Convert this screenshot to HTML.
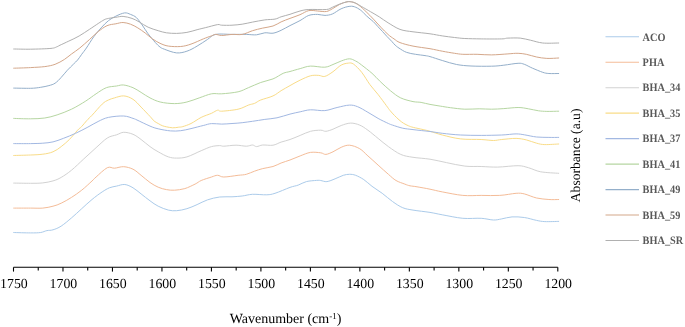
<!DOCTYPE html>
<html><head><meta charset="utf-8"><style>
html,body{margin:0;padding:0;background:#fff;}
body{width:685px;height:327px;overflow:hidden;}
svg{display:block;will-change:transform;}
text{font-family:"Liberation Serif",serif;text-rendering:geometricPrecision;}
</style></head><body>
<svg width="685" height="327" viewBox="0 0 685 327">
<rect width="685" height="327" fill="#fff"/>
<g fill="none" stroke-width="1.0" stroke-linejoin="round" stroke-linecap="round">
<path d="M13.7,232.5 C16.5,232.6 26.0,232.9 30.5,232.9 C35.0,232.9 38.0,232.9 40.7,232.5 C43.4,232.1 44.9,231.0 46.9,230.6 C48.9,230.2 50.6,230.6 53.0,229.8 C55.4,229.1 58.1,228.1 61.2,226.1 C64.3,224.1 68.1,220.8 71.5,217.9 C74.9,215.0 78.3,211.8 81.7,208.7 C85.1,205.6 88.6,202.3 92.0,199.5 C95.4,196.7 99.3,193.8 102.2,191.9 C105.1,190.0 107.0,188.8 109.4,187.8 C111.8,186.8 114.0,186.7 116.6,186.1 C119.2,185.5 122.1,184.2 124.8,184.5 C127.5,184.8 130.3,186.2 133.0,187.8 C135.7,189.4 138.3,191.7 141.1,193.9 C143.9,196.1 147.2,198.8 150.0,200.8 C152.8,202.9 155.1,204.6 158.2,206.2 C161.3,207.8 165.3,209.3 168.4,210.1 C171.5,210.8 173.5,210.9 176.6,210.7 C179.7,210.5 183.5,209.7 186.9,208.7 C190.3,207.7 193.7,206.1 197.1,204.6 C200.5,203.1 203.6,201.2 207.4,199.9 C211.2,198.6 215.6,197.5 219.7,197.0 C223.8,196.5 228.2,197.0 232.0,196.8 C235.8,196.6 238.8,196.4 242.2,196.0 C245.6,195.6 248.4,194.5 252.5,194.3 C256.6,194.1 263.1,195.0 266.8,194.8 C270.6,194.6 271.1,194.5 275.0,193.3 C278.9,192.1 286.1,188.8 290.0,187.4 C293.9,186.0 295.5,186.1 298.2,185.1 C300.9,184.1 303.3,182.4 306.4,181.6 C309.5,180.8 314.2,180.6 316.6,180.4 C319.0,180.2 319.0,180.3 320.7,180.5 C322.4,180.7 324.5,181.9 326.9,181.6 C329.3,181.3 332.4,179.9 335.1,178.8 C337.8,177.8 340.9,176.1 343.3,175.3 C345.7,174.6 347.3,174.3 349.4,174.3 C351.4,174.3 353.2,174.4 355.6,175.3 C358.0,176.2 361.1,177.8 363.8,179.6 C366.5,181.4 368.9,184.0 372.0,186.3 C375.1,188.6 378.8,190.8 382.2,193.3 C385.6,195.8 389.1,199.1 392.5,201.5 C395.9,203.9 399.3,206.3 402.7,207.7 C406.1,209.1 408.4,209.3 413.0,210.1 C417.6,210.9 425.1,211.6 430.0,212.4 C434.9,213.2 436.8,213.8 442.3,214.8 C447.8,215.8 456.3,217.7 462.8,218.3 C469.3,218.9 476.1,218.0 481.2,218.3 C486.3,218.6 490.1,219.9 493.5,220.0 C496.9,220.1 498.6,219.4 501.7,218.9 C504.8,218.4 508.2,217.1 512.0,216.9 C515.8,216.7 520.2,216.9 524.3,217.5 C528.4,218.1 533.2,219.7 536.6,220.4 C540.0,221.1 541.1,221.4 544.8,221.6 C548.5,221.8 556.4,221.4 558.7,221.4" stroke="#ABCBEA"/>
<path d="M13.7,208.1 C16.5,208.1 25.6,208.1 30.5,208.1 C35.4,208.1 39.0,208.4 42.8,208.1 C46.5,207.8 49.9,207.0 53.0,206.2 C56.1,205.4 58.1,204.7 61.2,203.2 C64.3,201.7 68.1,199.6 71.5,197.4 C74.9,195.2 78.3,192.9 81.7,190.2 C85.1,187.5 89.6,183.2 92.0,181.0 C94.4,178.8 93.5,179.2 96.1,177.0 C98.6,174.8 104.2,169.2 107.3,167.7 C110.4,166.2 111.8,168.4 114.5,168.2 C117.2,168.0 120.6,166.5 123.7,166.7 C126.8,166.9 130.1,167.8 133.0,169.2 C135.9,170.6 138.3,173.1 141.1,175.3 C143.9,177.5 147.2,180.5 150.0,182.5 C152.8,184.5 155.5,186.0 158.2,187.2 C160.9,188.4 163.7,189.1 166.4,189.6 C169.1,190.1 171.5,190.4 174.6,190.2 C177.7,190.0 181.4,189.6 184.8,188.6 C188.2,187.6 192.4,185.4 195.1,184.1 C197.8,182.8 198.5,181.7 201.2,180.5 C203.9,179.3 208.8,177.9 211.5,177.0 C214.2,176.1 215.5,175.3 217.6,175.3 C219.7,175.3 220.4,177.0 223.8,177.0 C227.2,177.0 234.3,175.8 238.1,175.3 C241.8,174.9 243.6,175.0 246.3,174.3 C249.0,173.6 251.8,172.1 254.5,171.2 C257.2,170.2 259.6,169.4 262.7,168.6 C265.8,167.8 269.9,167.4 273.0,166.5 C276.1,165.6 278.3,164.1 281.1,163.0 C283.9,161.9 286.8,161.2 290.0,160.0 C293.2,158.8 296.8,157.2 300.2,155.9 C303.6,154.6 307.1,152.9 310.5,152.4 C313.9,151.9 318.1,152.5 320.7,152.8 C323.3,153.1 323.8,154.6 325.9,154.4 C327.9,154.2 330.4,153.0 333.0,151.8 C335.6,150.6 338.5,148.4 341.2,147.3 C343.9,146.2 346.3,145.0 349.4,145.2 C352.5,145.4 356.6,146.9 359.7,148.7 C362.8,150.5 364.8,153.2 367.9,155.9 C371.0,158.6 374.7,162.0 378.1,165.1 C381.5,168.2 385.4,171.7 388.4,174.3 C391.4,176.9 393.3,178.9 396.0,180.5 C398.7,182.1 402.5,183.2 404.8,184.1 C407.1,185.0 408.0,185.4 410.0,185.8 C412.0,186.2 413.7,186.2 417.0,186.8 C420.3,187.4 425.8,188.3 430.0,189.2 C434.2,190.0 436.8,190.9 442.3,191.9 C447.8,192.9 456.3,194.8 462.8,195.4 C469.3,196.0 475.1,195.4 481.2,195.4 C487.3,195.4 493.9,195.8 499.7,195.4 C505.5,195.1 512.0,193.6 516.1,193.3 C520.2,193.1 520.9,193.1 524.3,193.9 C527.7,194.7 532.5,197.1 536.6,198.0 C540.7,198.9 545.2,199.2 548.9,199.5 C552.6,199.8 557.1,199.5 558.7,199.5" stroke="#F4BC98"/>
<path d="M13.7,183.1 C16.5,183.1 25.6,183.3 30.5,183.3 C35.4,183.3 39.0,183.3 42.8,182.9 C46.5,182.5 49.9,181.8 53.0,180.9 C56.1,180.0 58.1,179.2 61.2,177.4 C64.3,175.6 67.7,173.3 71.5,170.2 C75.3,167.1 79.7,162.7 83.8,158.9 C87.9,155.2 92.2,151.2 96.1,147.7 C100.0,144.2 103.9,140.2 107.3,138.0 C110.7,135.8 113.9,135.8 116.6,134.8 C119.3,133.9 121.0,132.4 123.7,132.3 C126.4,132.2 130.1,133.1 133.0,134.3 C135.9,135.5 138.3,137.4 141.1,139.5 C143.9,141.6 147.2,144.5 150.0,146.6 C152.8,148.7 155.1,150.1 158.2,151.8 C161.3,153.5 165.3,155.9 168.4,156.9 C171.5,157.9 173.5,158.1 176.6,158.1 C179.7,158.1 182.8,158.1 186.9,156.9 C191.0,155.7 197.1,152.4 201.2,150.7 C205.3,149.0 208.4,147.4 211.5,146.6 C214.6,145.8 217.6,145.7 219.7,145.6 C221.8,145.5 221.1,146.3 223.8,146.2 C226.5,146.1 232.3,145.2 236.1,145.2 C239.8,145.2 243.6,146.2 246.3,146.2 C249.0,146.2 250.8,144.9 252.5,145.0 C254.2,145.1 254.9,146.6 256.6,146.6 C258.3,146.6 260.0,145.2 262.7,145.0 C265.4,144.8 269.9,145.7 273.0,145.2 C276.1,144.7 278.3,143.0 281.1,142.1 C283.9,141.2 286.8,140.6 290.0,139.5 C293.2,138.4 296.8,136.8 300.2,135.4 C303.6,134.0 307.1,132.2 310.5,131.3 C313.9,130.4 318.1,130.2 320.7,130.2 C323.3,130.2 323.8,131.5 325.9,131.3 C327.9,131.1 330.4,130.2 333.0,129.2 C335.6,128.2 338.3,126.5 341.2,125.5 C344.1,124.5 347.4,123.2 350.5,123.1 C353.6,123.0 356.8,123.9 359.7,125.1 C362.6,126.3 364.8,128.0 367.9,130.2 C371.0,132.4 374.7,135.7 378.1,138.4 C381.5,141.1 384.6,143.9 388.4,146.6 C392.2,149.3 396.6,152.6 400.7,154.4 C404.8,156.2 408.1,156.5 413.0,157.3 C417.9,158.1 424.4,158.3 430.0,159.2 C435.6,160.1 440.6,161.4 446.4,162.6 C452.2,163.8 459.0,165.4 464.8,166.1 C470.6,166.8 475.7,166.3 481.2,166.5 C486.7,166.7 491.5,167.2 497.6,167.1 C503.8,167.0 513.0,165.6 518.1,165.7 C523.2,165.8 524.6,166.7 528.4,167.7 C532.2,168.7 535.7,170.9 540.7,171.8 C545.8,172.7 555.7,173.1 558.7,173.3" stroke="#D2D2D2"/>
<path d="M13.7,155.5 C16.5,155.4 25.6,155.2 30.5,155.0 C35.4,154.8 39.0,154.7 42.8,154.2 C46.5,153.7 49.9,153.1 53.0,151.8 C56.1,150.5 58.5,148.7 61.2,146.6 C63.9,144.5 66.7,142.2 69.4,139.5 C72.1,136.8 75.5,132.4 77.6,130.2 C79.6,128.0 80.2,128.1 81.7,126.5 C83.2,124.9 85.1,122.4 86.8,120.5 C88.5,118.6 89.4,118.0 92.0,115.3 C94.6,112.6 99.5,106.6 102.2,104.1 C104.9,101.5 106.4,101.0 108.4,100.0 C110.5,99.0 112.0,98.6 114.5,97.9 C117.0,97.2 120.6,95.7 123.7,95.9 C126.8,96.1 130.1,97.4 133.0,99.3 C135.9,101.2 138.3,104.2 141.1,107.1 C143.9,109.9 147.8,114.1 150.0,116.4 C152.2,118.7 152.7,119.8 154.1,121.0 C155.5,122.2 156.8,122.7 158.2,123.5 C159.6,124.3 160.9,125.2 162.3,125.7 C163.7,126.2 164.7,126.5 166.4,126.8 C168.1,127.1 170.4,127.7 172.5,127.8 C174.6,127.9 177.0,127.4 178.7,127.2 C180.4,127.0 180.8,127.2 182.8,126.6 C184.9,126.0 187.9,125.0 191.0,123.5 C194.1,122.0 197.8,119.1 201.2,117.4 C204.6,115.7 208.8,114.5 211.5,113.3 C214.2,112.1 215.9,110.5 217.6,110.2 C219.3,109.9 218.3,111.4 221.7,111.2 C225.1,111.0 233.6,110.2 238.1,109.2 C242.6,108.2 245.7,106.1 248.4,105.1 C251.1,104.1 252.4,104.2 254.5,103.4 C256.6,102.6 257.6,101.2 260.7,100.0 C263.8,98.8 269.6,97.5 273.0,95.9 C276.4,94.4 278.3,92.4 281.1,90.7 C283.9,89.0 286.8,87.4 290.0,85.6 C293.2,83.8 296.8,81.7 300.2,80.1 C303.6,78.5 307.4,76.6 310.5,75.8 C313.6,75.0 316.3,75.3 318.7,75.4 C321.1,75.5 322.4,77.0 324.8,76.4 C327.2,75.8 330.3,73.6 333.0,71.7 C335.7,69.8 338.6,66.5 341.2,65.1 C343.8,63.7 346.3,63.3 348.4,63.1 C350.4,62.9 351.3,62.6 353.5,64.1 C355.7,65.6 359.0,68.9 361.7,72.3 C364.4,75.7 367.2,80.9 369.9,84.6 C372.6,88.3 375.4,91.0 378.1,94.5 C380.8,98.0 384.3,102.8 386.3,105.5 C388.3,108.2 388.6,108.8 390.0,110.5 C391.4,112.2 393.0,114.0 394.5,115.5 C396.0,117.0 397.5,118.5 399.0,119.8 C400.5,121.1 402.0,122.3 403.6,123.3 C405.2,124.3 406.9,125.1 408.5,125.8 C410.1,126.5 410.9,126.8 413.3,127.4 C415.7,128.0 420.3,128.9 423.1,129.6 C425.9,130.2 426.8,130.4 430.0,131.3 C433.2,132.2 437.2,133.7 442.3,135.0 C447.4,136.3 454.2,138.2 460.7,138.9 C467.2,139.7 475.7,139.2 481.2,139.5 C486.7,139.8 490.1,140.5 493.5,140.5 C496.9,140.5 497.9,139.8 501.7,139.5 C505.5,139.2 512.0,138.3 516.1,138.4 C520.2,138.5 522.9,139.1 526.3,139.9 C529.7,140.7 533.5,142.4 536.6,143.2 C539.7,144.0 541.1,144.5 544.8,144.6 C548.5,144.7 556.4,144.1 558.7,144.0" stroke="#F9DC88"/>
<path d="M13.7,143.6 C16.5,143.6 25.6,143.7 30.5,143.6 C35.4,143.5 39.0,143.5 42.8,143.2 C46.5,142.9 49.6,142.7 53.0,141.9 C56.4,141.1 59.5,139.8 63.3,138.4 C67.1,137.0 71.5,135.2 75.6,133.3 C79.7,131.4 84.2,129.1 87.9,127.1 C91.7,125.1 94.7,123.1 98.1,121.5 C101.5,119.9 104.1,118.3 108.4,117.4 C112.7,116.5 119.6,115.8 123.7,116.0 C127.8,116.2 130.8,117.7 133.0,118.4 C135.2,119.1 134.2,118.7 137.0,120.0 C139.8,121.3 146.5,124.6 150.0,126.1 C153.5,127.6 154.8,128.0 158.2,128.8 C161.6,129.6 166.8,130.6 170.5,130.9 C174.2,131.2 177.3,131.1 180.7,130.7 C184.1,130.3 187.2,129.5 191.0,128.6 C194.8,127.7 199.9,126.3 203.3,125.5 C206.7,124.7 208.4,123.8 211.5,123.6 C214.6,123.4 218.3,124.1 221.7,124.1 C225.1,124.1 228.6,123.7 232.0,123.5 C235.4,123.3 238.8,123.1 242.2,122.7 C245.6,122.3 248.7,121.8 252.5,121.3 C256.3,120.8 260.7,120.0 264.8,119.4 C268.9,118.8 272.8,118.7 277.0,117.8 C281.2,116.9 286.1,115.1 290.0,114.1 C293.9,113.1 296.8,112.5 300.2,111.8 C303.6,111.1 306.4,110.0 310.5,109.8 C314.6,109.6 320.4,111.0 324.8,110.6 C329.2,110.2 333.0,108.4 337.1,107.5 C341.2,106.6 346.0,105.2 349.4,105.1 C352.8,105.0 354.5,105.5 357.6,106.7 C360.7,107.9 364.5,110.3 367.9,112.3 C371.3,114.2 374.7,116.5 378.1,118.4 C381.5,120.3 386.0,122.4 388.4,123.5 C390.8,124.6 390.1,124.3 392.5,125.1 C394.9,125.9 399.3,127.4 402.7,128.2 C406.1,128.9 408.4,129.0 413.0,129.6 C417.6,130.2 425.1,130.9 430.0,131.5 C434.9,132.1 437.2,132.7 442.3,133.3 C447.4,133.9 454.2,134.7 460.7,135.0 C467.2,135.3 474.4,135.4 481.2,135.4 C488.0,135.4 495.9,135.2 501.7,135.0 C507.5,134.8 512.3,133.9 516.1,133.9 C519.9,133.9 520.9,134.3 524.3,134.8 C527.7,135.3 532.5,136.6 536.6,137.0 C540.7,137.4 545.2,137.3 548.9,137.4 C552.6,137.5 557.1,137.4 558.7,137.4" stroke="#A2B8E2"/>
<path d="M13.7,118.4 C16.5,118.5 25.3,118.9 30.5,118.8 C35.7,118.7 40.4,118.7 44.8,118.0 C49.2,117.3 52.6,116.4 57.1,114.9 C61.6,113.4 66.7,111.5 71.5,109.2 C76.3,106.9 81.7,103.6 85.8,101.0 C89.9,98.4 92.7,96.0 96.1,93.8 C99.5,91.6 102.9,89.0 106.3,87.7 C109.7,86.4 113.7,86.5 116.6,86.0 C119.5,85.5 121.0,84.7 123.7,85.0 C126.4,85.3 130.1,86.5 133.0,87.7 C135.9,88.9 138.3,90.7 141.1,92.4 C143.9,94.1 146.8,96.3 150.0,97.9 C153.2,99.5 156.1,101.0 160.2,102.0 C164.3,103.0 170.1,103.6 174.6,103.6 C179.1,103.6 182.8,103.0 186.9,102.0 C191.0,101.0 195.1,99.3 199.2,97.9 C203.3,96.5 207.8,94.5 211.5,93.8 C215.2,93.1 217.3,94.1 221.7,93.8 C226.1,93.5 233.6,92.8 238.1,91.8 C242.6,90.8 244.6,89.2 248.4,87.7 C252.2,86.2 256.6,84.0 260.7,82.5 C264.8,81.0 269.2,80.4 273.0,78.9 C276.8,77.4 280.4,74.5 283.2,73.3 C286.0,72.1 287.2,72.3 290.0,71.5 C292.8,70.7 296.8,69.5 300.2,68.6 C303.6,67.7 306.4,66.3 310.5,66.1 C314.6,65.9 321.1,67.5 324.8,67.2 C328.6,66.9 330.3,65.5 333.0,64.5 C335.7,63.5 338.5,62.0 341.2,61.0 C343.9,60.0 347.0,58.8 349.4,58.8 C351.8,58.8 353.6,60.0 355.6,61.0 C357.7,62.0 359.0,63.0 361.7,65.1 C364.4,67.1 368.9,70.6 372.0,73.3 C375.1,76.0 377.1,78.6 380.2,81.5 C383.3,84.4 387.0,88.0 390.4,90.7 C393.8,93.4 396.9,96.1 400.7,97.9 C404.5,99.7 409.6,100.8 413.0,101.6 C416.4,102.3 418.3,101.9 421.1,102.4 C423.9,102.9 426.8,103.8 430.0,104.4 C433.2,105.0 436.8,105.5 440.2,106.1 C443.6,106.6 446.4,107.2 450.5,107.7 C454.6,108.2 460.0,109.0 464.8,109.2 C469.6,109.4 474.8,108.8 479.2,108.8 C483.6,108.8 487.4,109.2 491.5,109.2 C495.6,109.2 499.4,108.9 503.8,108.6 C508.2,108.3 514.0,107.5 518.1,107.5 C522.2,107.5 525.0,108.2 528.4,108.8 C531.8,109.3 535.5,110.4 538.6,110.8 C541.7,111.2 543.4,111.3 546.8,111.4 C550.1,111.5 556.7,111.2 558.7,111.2" stroke="#B6D6A2"/>
<path d="M13.7,88.1 C16.5,88.1 26.0,88.4 30.5,88.3 C35.0,88.2 37.6,87.8 40.7,87.3 C43.8,86.8 46.5,86.3 48.9,85.6 C51.3,84.9 53.0,84.6 55.1,83.2 C57.2,81.8 59.2,79.6 61.2,77.4 C63.2,75.2 65.4,72.4 67.4,70.2 C69.5,68.0 71.8,65.8 73.5,64.1 C75.2,62.4 76.2,61.6 77.6,60.0 C79.0,58.4 80.2,56.3 81.7,54.3 C83.2,52.3 84.4,50.9 86.4,48.0 C88.4,45.1 91.3,40.1 93.8,36.7 C96.2,33.4 98.6,30.6 101.1,27.9 C103.5,25.2 106.0,22.6 108.5,20.6 C111.0,18.7 113.1,17.5 115.8,16.2 C118.5,14.9 122.1,13.2 124.6,12.9 C127.0,12.6 128.5,13.6 130.5,14.4 C132.5,15.2 134.5,15.8 136.4,17.6 C138.3,19.4 140.2,22.3 142.2,25.0 C144.1,27.7 145.9,30.9 148.1,33.8 C150.3,36.7 153.4,40.4 155.4,42.6 C157.4,44.8 158.5,45.9 160.0,47.0 C161.5,48.1 161.5,48.2 164.3,49.2 C167.1,50.2 172.8,52.6 176.6,52.9 C180.4,53.2 183.5,52.3 186.9,51.2 C190.3,50.1 193.7,48.1 197.1,46.1 C200.5,44.1 204.3,41.5 207.4,39.5 C210.5,37.5 211.5,35.2 215.6,34.4 C219.7,33.5 226.9,34.4 232.0,34.4 C237.1,34.4 242.2,34.3 246.3,34.4 C250.4,34.5 253.5,35.1 256.6,34.8 C259.7,34.5 262.1,33.1 264.8,32.8 C267.5,32.5 270.3,33.6 273.0,33.2 C275.7,32.8 278.3,31.6 281.1,30.3 C283.9,29.0 286.9,27.2 290.0,25.6 C293.1,24.0 296.9,22.3 300.0,20.6 C303.1,18.9 305.9,16.4 308.8,15.4 C311.7,14.4 314.9,14.4 317.6,14.4 C320.3,14.4 322.6,15.5 325.0,15.4 C327.4,15.3 329.6,15.1 332.3,14.0 C335.0,12.9 338.2,10.1 341.1,8.8 C344.0,7.5 347.4,6.5 349.9,6.3 C352.3,6.0 353.8,6.5 355.8,7.3 C357.8,8.1 360.3,9.9 361.7,11.0 C363.1,12.1 363.0,12.4 364.2,13.6 C365.4,14.8 367.5,16.8 369.0,18.1 C370.5,19.4 371.8,20.2 373.3,21.6 C374.8,23.0 376.3,24.9 377.8,26.5 C379.3,28.1 381.0,29.8 382.5,31.5 C384.0,33.2 385.5,34.9 387.0,36.5 C388.5,38.1 390.4,39.9 391.7,41.3 C393.0,42.7 393.8,43.9 395.0,45.0 C396.2,46.1 397.1,46.9 399.0,48.1 C400.9,49.3 403.6,51.3 406.4,52.3 C409.1,53.3 412.4,53.8 415.5,54.3 C418.6,54.8 422.6,55.2 425.0,55.6 C427.4,56.0 427.1,55.8 430.0,56.6 C432.9,57.4 437.9,59.2 442.3,60.5 C446.7,61.8 451.8,63.6 456.6,64.5 C461.4,65.4 465.2,65.7 471.0,66.0 C476.8,66.3 486.0,66.3 491.5,66.2 C497.0,66.1 499.4,65.7 503.8,65.2 C508.2,64.7 514.7,63.4 518.1,63.3 C521.5,63.1 521.9,63.5 524.3,64.3 C526.7,65.1 529.4,66.9 532.5,68.2 C535.6,69.5 540.0,71.4 542.7,72.3 C545.4,73.2 546.2,73.3 548.9,73.5 C551.6,73.7 557.1,73.5 558.7,73.5" stroke="#94AFCA"/>
<path d="M13.7,68.2 C16.5,68.1 25.3,67.9 30.5,67.6 C35.7,67.3 40.7,67.1 44.8,66.6 C48.9,66.0 51.9,65.5 55.1,64.3 C58.4,63.1 61.6,61.2 64.3,59.5 C67.0,57.8 68.9,55.9 71.5,54.0 C74.1,52.1 76.8,50.4 79.8,48.0 C82.8,45.6 86.3,42.3 89.4,39.6 C92.5,36.9 95.3,33.9 98.2,31.6 C101.1,29.3 104.1,27.0 107.0,25.7 C109.9,24.4 113.1,24.3 115.8,23.8 C118.5,23.3 120.6,22.4 123.1,22.5 C125.5,22.6 128.1,23.3 130.5,24.2 C132.9,25.1 135.4,26.4 137.8,27.9 C140.2,29.4 142.8,31.2 145.2,33.0 C147.6,34.8 150.0,37.2 152.5,38.9 C155.0,40.6 157.3,42.1 160.0,43.3 C162.7,44.5 165.0,45.6 168.4,46.1 C171.8,46.6 176.9,46.8 180.7,46.5 C184.5,46.2 187.2,45.4 191.0,44.1 C194.8,42.8 199.9,40.3 203.3,38.9 C206.7,37.5 209.4,36.6 211.5,35.9 C213.6,35.1 213.9,34.5 215.6,34.4 C217.3,34.3 219.0,35.5 221.7,35.5 C224.4,35.5 228.6,34.6 232.0,34.4 C235.4,34.2 238.8,35.0 242.2,34.4 C245.6,33.8 249.1,31.8 252.5,30.7 C255.9,29.6 259.3,28.9 262.7,28.1 C266.1,27.3 269.9,27.0 273.0,26.0 C276.1,25.0 278.3,23.2 281.1,21.9 C283.9,20.6 286.9,19.6 290.0,18.4 C293.1,17.2 296.9,16.0 300.0,14.7 C303.1,13.4 305.9,11.2 308.8,10.6 C311.7,10.0 314.7,10.8 317.6,11.0 C320.5,11.2 323.9,11.9 326.4,11.5 C328.8,11.1 330.1,10.0 332.3,8.8 C334.5,7.6 337.2,5.6 339.6,4.4 C342.1,3.2 344.8,2.2 347.0,1.8 C349.2,1.4 350.9,1.7 352.9,2.2 C354.8,2.8 356.5,3.5 358.7,5.1 C360.9,6.7 363.7,9.4 366.1,11.7 C368.6,14.0 370.9,16.5 373.4,19.1 C375.8,21.7 378.4,24.6 380.8,27.2 C383.2,29.8 385.9,32.5 388.1,34.5 C390.3,36.5 392.0,37.5 394.0,38.9 C396.0,40.2 396.8,41.4 400.0,42.6 C403.2,43.8 408.0,45.1 413.0,46.1 C418.0,47.1 425.1,47.9 430.0,48.7 C434.9,49.6 438.2,50.4 442.3,51.2 C446.4,52.0 451.2,52.8 454.6,53.3 C458.0,53.8 459.1,54.1 462.8,54.3 C466.6,54.5 472.3,54.2 477.1,54.3 C481.9,54.4 486.4,55.0 491.5,54.9 C496.6,54.8 503.5,54.2 507.9,53.9 C512.3,53.6 515.0,53.2 518.1,53.3 C521.2,53.4 523.2,53.7 526.3,54.3 C529.4,54.9 533.2,56.3 536.6,57.0 C540.0,57.7 543.1,58.2 546.8,58.4 C550.5,58.6 556.7,58.1 558.7,58.0" stroke="#D4A78A"/>
<path d="M13.7,49.0 C16.5,49.0 24.3,49.3 30.5,49.2 C36.7,49.1 46.6,48.8 51.0,48.4 C55.4,48.0 55.6,47.2 57.1,46.7 C58.6,46.2 58.0,46.1 60.0,45.2 C62.0,44.3 65.6,42.6 68.8,41.1 C72.0,39.6 75.7,38.0 79.1,36.0 C82.5,34.0 86.2,31.5 89.4,29.4 C92.6,27.3 95.8,25.1 98.2,23.5 C100.7,21.9 102.4,20.7 104.1,19.8 C105.8,18.9 106.5,18.8 108.5,18.4 C110.5,18.0 113.4,17.6 115.8,17.3 C118.2,17.0 120.4,16.2 123.1,16.4 C125.8,16.6 129.3,17.5 132.0,18.4 C134.7,19.3 136.6,20.5 139.3,22.0 C142.0,23.5 144.9,25.8 148.1,27.2 C151.2,28.6 155.1,29.8 158.2,30.7 C161.2,31.6 163.3,32.3 166.4,32.8 C169.5,33.2 173.2,33.5 176.6,33.4 C180.0,33.3 183.5,33.0 186.9,32.4 C190.3,31.8 194.0,30.5 197.1,29.7 C200.2,28.9 201.9,28.5 205.3,27.7 C208.7,26.9 214.9,25.0 217.6,24.6 C220.3,24.2 219.3,25.1 221.7,25.2 C224.1,25.3 228.6,25.4 232.0,25.2 C235.4,25.0 238.8,24.7 242.2,24.2 C245.6,23.7 248.7,22.8 252.5,22.1 C256.3,21.4 261.1,20.4 264.8,19.9 C268.6,19.4 272.3,19.6 275.0,19.1 C277.7,18.6 278.6,17.6 281.1,16.8 C283.6,16.0 286.9,15.3 290.0,14.3 C293.1,13.3 296.9,11.8 300.0,11.0 C303.1,10.2 304.4,9.8 308.8,9.5 C313.2,9.2 322.5,9.9 326.4,9.5 C330.3,9.1 330.1,8.2 332.3,7.3 C334.5,6.4 337.2,5.0 339.6,4.1 C342.1,3.2 345.0,2.2 347.0,1.8 C349.0,1.4 349.9,1.6 351.4,1.8 C352.9,2.0 354.1,2.4 355.8,3.2 C357.5,4.0 359.2,5.2 361.7,6.6 C364.1,8.0 367.6,10.0 370.5,11.7 C373.4,13.4 376.4,15.0 379.3,16.9 C382.2,18.8 384.7,20.7 388.1,22.8 C391.6,24.9 395.9,27.9 400.0,29.4 C404.1,30.9 408.0,31.1 413.0,31.8 C418.0,32.5 425.1,33.1 430.0,33.8 C434.9,34.5 438.2,35.3 442.3,35.9 C446.4,36.5 450.9,37.1 454.6,37.5 C458.4,37.9 460.4,38.3 464.8,38.5 C469.2,38.7 475.1,38.8 481.2,38.9 C487.3,39.0 497.2,39.0 501.7,38.9 C506.1,38.8 504.8,38.2 507.9,38.1 C511.0,38.0 516.5,37.8 520.2,38.1 C524.0,38.5 526.6,39.4 530.4,40.2 C534.1,41.0 538.0,42.5 542.7,43.0 C547.4,43.5 556.0,43.0 558.7,43.0" stroke="#B0B0B0"/>
</g>
<g stroke="#000" stroke-width="1.1" fill="none">
<line x1="13.50" y1="267.3" x2="557.80" y2="267.3"/>
<line x1="13.50" y1="267.3" x2="13.50" y2="271.6"/>
<line x1="38.24" y1="267.3" x2="38.24" y2="270.6"/>
<line x1="62.98" y1="267.3" x2="62.98" y2="271.6"/>
<line x1="87.72" y1="267.3" x2="87.72" y2="270.6"/>
<line x1="112.46" y1="267.3" x2="112.46" y2="271.6"/>
<line x1="137.20" y1="267.3" x2="137.20" y2="270.6"/>
<line x1="161.95" y1="267.3" x2="161.95" y2="271.6"/>
<line x1="186.69" y1="267.3" x2="186.69" y2="270.6"/>
<line x1="211.43" y1="267.3" x2="211.43" y2="271.6"/>
<line x1="236.17" y1="267.3" x2="236.17" y2="270.6"/>
<line x1="260.91" y1="267.3" x2="260.91" y2="271.6"/>
<line x1="285.65" y1="267.3" x2="285.65" y2="270.6"/>
<line x1="310.39" y1="267.3" x2="310.39" y2="271.6"/>
<line x1="335.13" y1="267.3" x2="335.13" y2="270.6"/>
<line x1="359.87" y1="267.3" x2="359.87" y2="271.6"/>
<line x1="384.61" y1="267.3" x2="384.61" y2="270.6"/>
<line x1="409.35" y1="267.3" x2="409.35" y2="271.6"/>
<line x1="434.10" y1="267.3" x2="434.10" y2="270.6"/>
<line x1="458.84" y1="267.3" x2="458.84" y2="271.6"/>
<line x1="483.58" y1="267.3" x2="483.58" y2="270.6"/>
<line x1="508.32" y1="267.3" x2="508.32" y2="271.6"/>
<line x1="533.06" y1="267.3" x2="533.06" y2="270.6"/>
<line x1="557.80" y1="267.3" x2="557.80" y2="271.6"/>
</g>
<g font-size="13.8" text-anchor="middle" fill="#000">
<text x="13.90" y="288.2">1750</text>
<text x="63.38" y="288.2">1700</text>
<text x="112.86" y="288.2">1650</text>
<text x="162.35" y="288.2">1600</text>
<text x="211.83" y="288.2">1550</text>
<text x="261.31" y="288.2">1500</text>
<text x="310.79" y="288.2">1450</text>
<text x="360.27" y="288.2">1400</text>
<text x="409.75" y="288.2">1350</text>
<text x="459.24" y="288.2">1300</text>
<text x="508.72" y="288.2">1250</text>
<text x="558.20" y="288.2">1200</text>
</g>
<text x="285.5" y="322.8" font-size="14" text-anchor="middle" fill="#000">Wavenumber (cm<tspan font-size="9" dy="-3.4">-1</tspan><tspan dy="3.4">)</tspan></text>
<text transform="translate(580.2,155.4) rotate(-90)" font-size="13.6" text-anchor="middle" fill="#000">Absorbance (a.u)</text>
<g stroke-width="1.1" fill="none">
<line x1="605.5" y1="36.7" x2="639" y2="36.7" stroke="#ABCBEA"/>
<line x1="605.5" y1="62.2" x2="639" y2="62.2" stroke="#F4BC98"/>
<line x1="605.5" y1="87.7" x2="639" y2="87.7" stroke="#D2D2D2"/>
<line x1="605.5" y1="113.1" x2="639" y2="113.1" stroke="#F9DC88"/>
<line x1="605.5" y1="138.6" x2="639" y2="138.6" stroke="#A2B8E2"/>
<line x1="605.5" y1="164.1" x2="639" y2="164.1" stroke="#B6D6A2"/>
<line x1="605.5" y1="189.6" x2="639" y2="189.6" stroke="#94AFCA"/>
<line x1="605.5" y1="215.0" x2="639" y2="215.0" stroke="#D4A78A"/>
<line x1="605.5" y1="240.5" x2="639" y2="240.5" stroke="#B0B0B0"/>
</g>
<g font-size="11.3" font-weight="bold" fill="#595959">
<text transform="translate(642.6,40.50) scale(0.91,1)">ACO</text>
<text transform="translate(642.6,65.98) scale(0.91,1)">PHA</text>
<text transform="translate(642.6,91.45) scale(0.91,1)">BHA_34</text>
<text transform="translate(642.6,116.93) scale(0.91,1)">BHA_35</text>
<text transform="translate(642.6,142.40) scale(0.91,1)">BHA_37</text>
<text transform="translate(642.6,167.88) scale(0.91,1)">BHA_41</text>
<text transform="translate(642.6,193.35) scale(0.91,1)">BHA_49</text>
<text transform="translate(642.6,218.83) scale(0.91,1)">BHA_59</text>
<text transform="translate(642.6,244.30) scale(0.91,1)">BHA_SR</text>
</g>
</svg>
</body></html>
